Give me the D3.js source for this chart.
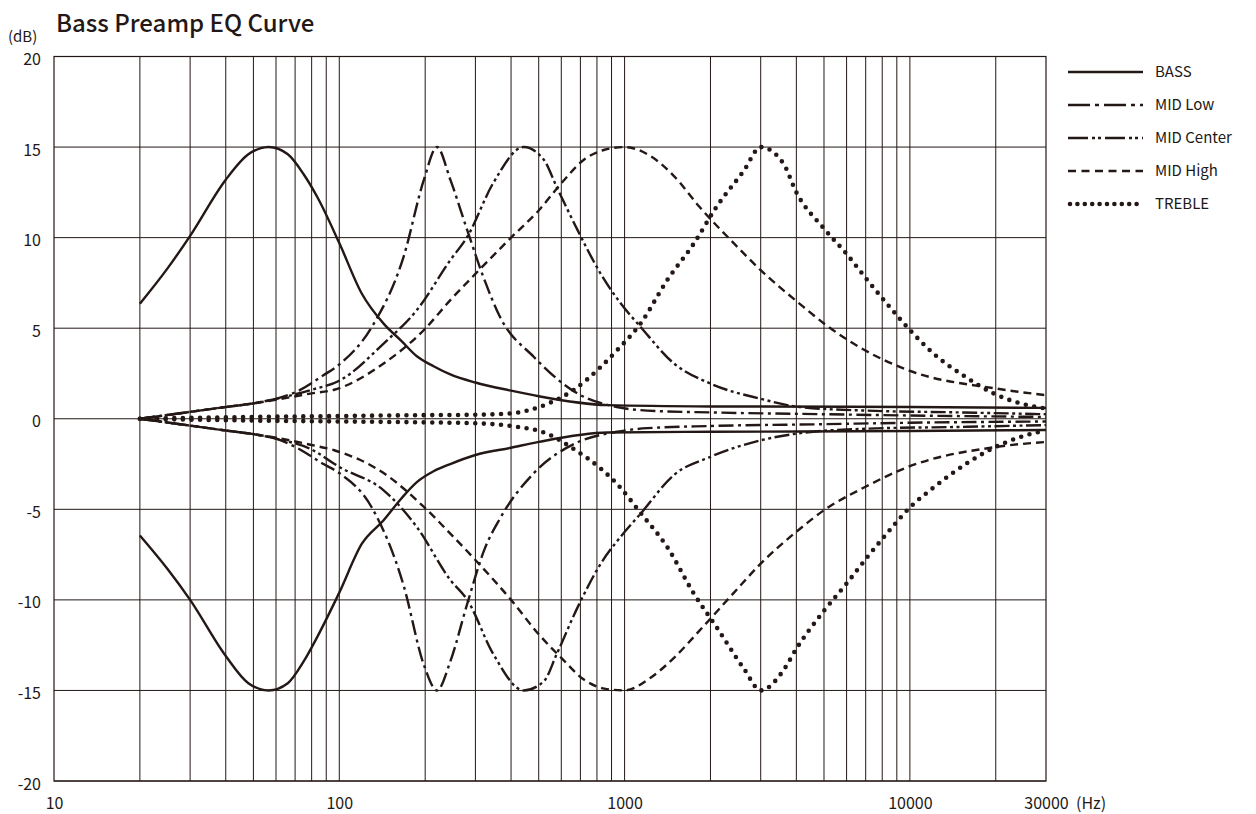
<!DOCTYPE html>
<html>
<head>
<meta charset="utf-8">
<script src="https://cdn.jsdelivr.net/npm/d3@7"></script>
<style>
  body { margin: 0; background: #fff; }
  text { font-family: "Noto Sans CJK JP", "Noto Sans", sans-serif; fill: #231815; }
</style>
</head>
<body>
<div id="main"></div>
<script>
// frequencies (Hz) and gain (dB), boost and cut per band
var bassFreq = [20, 25, 30, 40, 48, 56.5, 66, 75, 84, 100, 120, 143, 165, 187, 214, 245, 300, 400, 500, 870, 2000, 10000, 30000];
var bassBoost = [6.35, 8.3, 10.1, 13.2, 14.6, 15.0, 14.6, 13.5, 12.2, 9.7, 6.9, 5.25, 4.3, 3.45, 2.9, 2.45, 2.0, 1.55, 1.24, 0.75, 0.68, 0.65, 0.6];
var bassCut = [-6.45, -8.3, -10.0, -13.1, -14.6, -15.0, -14.6, -13.4, -12.0, -9.6, -6.9, -5.6, -4.4, -3.5, -2.9, -2.5, -2.0, -1.6, -1.28, -0.76, -0.72, -0.68, -0.62];

var midLowFreq = [20, 30, 40, 50, 60, 71, 88, 100, 130, 168, 198, 220, 245, 281, 323, 366, 481, 685, 940, 1200, 2000, 5000, 10000, 30000];
var midLowBoost = [0, 0.38, 0.65, 0.85, 1.1, 1.5, 2.4, 3.0, 5.07, 8.94, 13.2, 15.0, 13.2, 10.4, 7.65, 5.62, 3.41, 1.39, 0.65, 0.45, 0.35, 0.25, 0.18, 0.1];
var midLowCut = [0, -0.38, -0.65, -0.85, -1.1, -1.6, -2.5, -3.0, -4.9, -9.2, -13.6, -15.0, -13.4, -10.2, -7.2, -5.5, -3.0, -1.3, -0.72, -0.52, -0.4, -0.3, -0.22, -0.15];

var midCenterFreq = [20, 30, 40, 50, 60, 80, 100, 143, 187, 245, 281, 346, 443, 521, 578, 685, 825, 970, 1138, 1490, 2000, 3000, 4100, 7000, 15000, 30000];
var midCenterBoost = [0, 0.38, 0.65, 0.85, 1.1, 1.6, 2.1, 4.15, 6.0, 8.76, 10.05, 13.0, 15.0, 14.3, 12.8, 10.4, 8.0, 6.36, 5.07, 3.05, 1.94, 1.1, 0.65, 0.45, 0.35, 0.25];
var midCenterCut = [0, -0.38, -0.65, -0.85, -1.1, -1.7, -2.66, -3.95, -5.98, -8.9, -10.0, -12.97, -15.0, -14.5, -13.0, -10.4, -8.0, -6.5, -5.24, -3.1, -2.1, -1.19, -0.8, -0.55, -0.45, -0.35];

var midHighFreq = [20, 30, 40, 50, 60, 80, 96, 143, 198, 245, 300, 400, 500, 600, 720, 850, 1000, 1233, 1490, 1830, 2418, 3000, 4100, 5000, 6960, 9850, 20000, 30000];
var midHighBoost = [0, 0.38, 0.65, 0.85, 1.05, 1.4, 1.6, 3.05, 4.9, 6.55, 8.0, 10.0, 11.5, 13.0, 14.3, 14.85, 15.0, 14.5, 13.4, 11.7, 9.68, 8.2, 6.36, 5.26, 3.78, 2.68, 1.67, 1.3];
var midHighCut = [0, -0.38, -0.65, -0.85, -1.05, -1.45, -1.74, -3.0, -4.87, -6.34, -7.8, -10.0, -11.9, -13.2, -14.4, -14.9, -15.0, -14.3, -13.2, -11.7, -9.6, -8.0, -6.1, -5.05, -3.77, -2.66, -1.56, -1.28];

var trebleFreq = [20, 50, 100, 200, 300, 400, 540, 660, 825, 941, 1138, 1410, 1750, 2100, 2620, 3000, 3600, 4000, 5000, 6000, 7100, 8300, 10000, 12100, 15700, 19700, 24500, 30000];
var trebleBoost = [0, 0.1, 0.15, 0.2, 0.22, 0.3, 0.84, 1.57, 2.86, 3.78, 5.26, 7.65, 9.68, 11.7, 13.7, 15.0, 14.1, 12.5, 10.5, 9.1, 7.65, 6.36, 4.9, 3.6, 2.3, 1.39, 0.84, 0.56];
var trebleCut = [0, -0.1, -0.15, -0.2, -0.25, -0.4, -0.85, -1.65, -2.75, -3.6, -5.2, -7.08, -9.66, -11.5, -13.8, -15.0, -13.9, -12.7, -10.6, -9.1, -7.63, -6.34, -4.9, -3.8, -2.5, -1.6, -1.0, -0.64];

var seriesNames = ["BASS", "MID Low", "MID Center", "MID High", "TREBLE"];
var xGridValues = [20, 30, 40, 50, 60, 70, 80, 90, 100, 200, 300, 400, 500, 600, 700, 800, 900, 1000,
                   2000, 3000, 4000, 5000, 6000, 7000, 8000, 9000, 10000, 20000];
var xTickValues = [10, 100, 1000, 10000, 30000];
var yTickValues = [-20, -15, -10, -5, 0, 5, 10, 15, 20];

var ink = "#231815";
var width = 1256, height = 814;
var plot = {left: 54, right: 1046, top: 56.5, bottom: 781};

// line styles per band
var styles = {
  "BASS":       {dash: null,                 w: 2.4, cap: "butt"},
  "MID Low":    {dash: "15 4.5 3 4.5",        w: 2.4, cap: "butt"},
  "MID Center": {dash: "15 3.5 3 3.5 3 3.5",  w: 2.4, cap: "butt"},
  "MID High":   {dash: "8 5",                 w: 2.4, cap: "butt"},
  "TREBLE":     {dash: "0 8.6",               w: 4.6, cap: "round"}
};

var bands = [
  {name: "BASS", freq: bassFreq, boost: bassBoost, cut: bassCut},
  {name: "MID Low", freq: midLowFreq, boost: midLowBoost, cut: midLowCut},
  {name: "MID Center", freq: midCenterFreq, boost: midCenterBoost, cut: midCenterCut},
  {name: "MID High", freq: midHighFreq, boost: midHighBoost, cut: midHighCut},
  {name: "TREBLE", freq: trebleFreq, boost: trebleBoost, cut: trebleCut}
];

var svg = d3.select("#main").append("svg")
    .attr("width", width)
    .attr("height", height);

var x = d3.scaleLog()
    .domain([10, 30000])
    .range([plot.left, plot.right]);

var y = d3.scaleLinear()
    .domain([-20, 20])
    .range([plot.bottom, plot.top]);

// grid
var grid = svg.append("g").attr("class", "grid");

grid.selectAll(".vline").data(xGridValues).enter().append("line")
    .attr("class", "vline")
    .attr("x1", function(d){ return x(d); })
    .attr("x2", function(d){ return x(d); })
    .attr("y1", plot.top)
    .attr("y2", plot.bottom)
    .attr("stroke", ink)
    .attr("stroke-width", 1);

grid.selectAll(".hline").data(yTickValues).enter().append("line")
    .attr("class", "hline")
    .attr("x1", plot.left)
    .attr("x2", plot.right)
    .attr("y1", function(d){ return y(d); })
    .attr("y2", function(d){ return y(d); })
    .attr("stroke", ink)
    .attr("stroke-width", 1);

// frame
grid.append("rect")
    .attr("x", plot.left)
    .attr("y", plot.top)
    .attr("width", plot.right - plot.left)
    .attr("height", plot.bottom - plot.top)
    .attr("fill", "none")
    .attr("stroke", ink)
    .attr("stroke-width", 1.2);

// axes (labels only)
var xAxis = d3.axisBottom(x)
    .tickValues(xTickValues)
    .tickSize(0)
    .tickPadding(17)
    .tickFormat(function(d){ return d; });

var yAxis = d3.axisLeft(y)
    .tickValues(yTickValues)
    .tickSize(0)
    .tickPadding(13)
    .tickFormat(function(d){ return d; });

var gx = svg.append("g")
    .attr("transform", "translate(0," + plot.bottom + ")")
    .call(xAxis);
gx.select(".domain").remove();
gx.selectAll("text").style("font-size", "16px").style("fill", ink).style("font-family", null);

var gy = svg.append("g")
    .attr("transform", "translate(" + plot.left + ",0)")
    .call(yAxis);
gy.select(".domain").remove();
gy.selectAll("text").attr("dy", "0.5em").style("font-size", "16px").style("fill", ink).style("font-family", null);

// unit labels
svg.append("text")
    .attr("x", x(30000) + 30)
    .attr("y", plot.bottom + 17)
    .attr("dy", "0.71em")
    .style("font-size", "16px")
    .text("(Hz)");

svg.append("text")
    .attr("x", 8)
    .attr("y", 42)
    .style("font-size", "15px")
    .text("(dB)");

// title
svg.append("text")
    .attr("x", 56)
    .attr("y", 32)
    .style("font-size", "24px")
    .style("font-weight", 500)
    .text("Bass Preamp EQ Curve");

// curves
var line = d3.line()
    .x(function(d){ return x(d[0]); })
    .y(function(d){ return y(d[1]); })
    .curve(d3.curveMonotoneX);

var curves = svg.append("g").attr("class", "curves");

bands.forEach(function(b){
  var s = styles[b.name];
  [b.boost, b.cut].forEach(function(vals){
    var pts = b.freq.map(function(f, i){ return [f, vals[i]]; });
    curves.append("path")
        .datum(pts)
        .attr("d", line)
        .attr("fill", "none")
        .attr("stroke", ink)
        .attr("stroke-width", s.w)
        .attr("stroke-linecap", s.cap)
        .attr("stroke-dasharray", s.dash);
  });
});

// legend
var legend = svg.append("g").attr("transform", "translate(1068,72)");
var items = legend.selectAll(".item").data(seriesNames).enter().append("g")
    .attr("class", "item")
    .attr("transform", function(d, i){ return "translate(0," + (i * 33) + ")"; });

items.append("line")
    .attr("x1", function(d){ return d == "TREBLE" ? 2 : 0; })
    .attr("x2", 75)
    .attr("y1", 0)
    .attr("y2", 0)
    .attr("stroke", ink)
    .attr("stroke-width", function(d){ return styles[d].w; })
    .attr("stroke-linecap", function(d){ return styles[d].cap; })
    .attr("stroke-dasharray", function(d){
      if (d == "MID Low") return "22 5 4 5";
      if (d == "MID Center") return "20 4 3 3 3 4";
      if (d == "MID High") return "8 5.5";
      if (d == "TREBLE") return "0 7.4";
      return styles[d].dash;
    });

items.append("text")
    .attr("x", 87)
    .attr("y", 0)
    .attr("dy", "0.35em")
    .style("font-size", "15px")
    .text(function(d){ return d; });
</script>
</body>
</html>
